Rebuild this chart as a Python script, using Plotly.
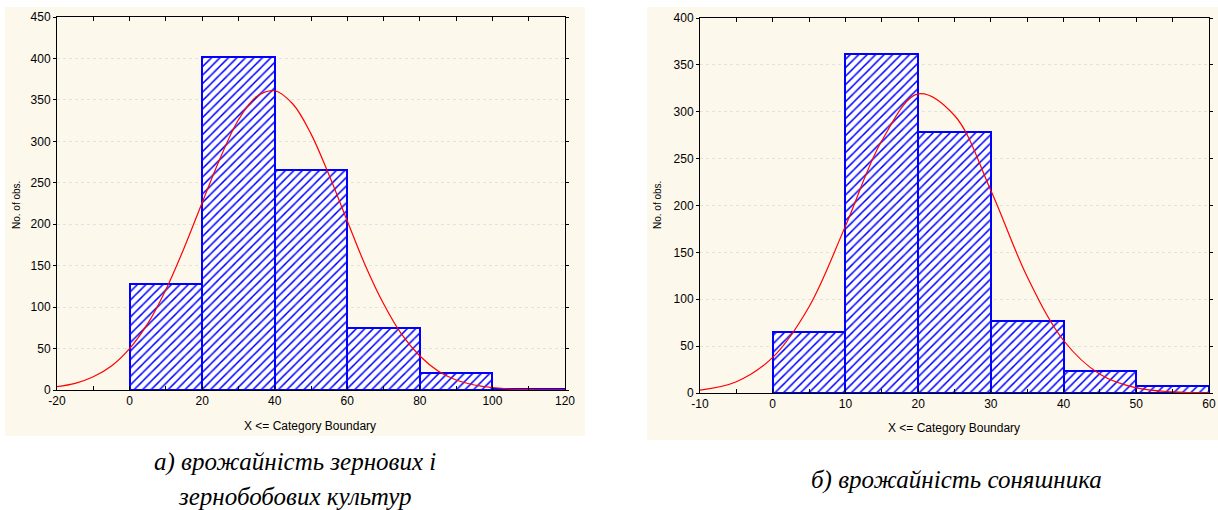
import plotly.graph_objects as go

# ---------------- data ----------------
left_bin_edges = [0, 20, 40, 60, 80, 100, 120]
left_counts = [128, 402, 265, 75, 20, 1]
left_curve_x = [-20, -15, -10, -5, 0, 5, 10, 15, 20, 25, 30, 35, 40, 45, 50, 55, 60,
                65, 70, 75, 80, 85, 90, 95, 100, 105, 110, 115, 120]
left_curve_y = [4, 8, 16, 29, 50, 80, 121, 171, 226, 280, 326, 354, 361, 345, 309, 259, 204,
                150, 104, 67, 41, 23, 12, 6, 3, 1.2, 0.5, 0.2, 0.1]
left_x_ticks = [-20, 0, 20, 40, 60, 80, 100, 120]
left_x_ticklabels = ["-20", "0", "20", "40", "60", "80", "100", "120"]

right_bin_edges = [0, 10, 20, 30, 40, 50, 60]
right_counts = [65, 362, 278, 77, 24, 8]
right_curve_x = [-10, -5, 0, 5, 10, 15, 20, 25, 30, 35, 40, 45, 50, 55, 60]
right_curve_y = [3, 12, 38, 92, 178, 269, 319, 296, 216, 124, 56, 20, 5.4, 1.2, 0.2]
right_x_ticks = [-10, 0, 10, 20, 30, 40, 50, 60]
right_x_ticklabels = ["-10", "0", "10", "20", "30", "40", "50", "60"]

left_caption = ["а) врожайність зернових і", "зернобобових культур"]
right_caption = ["б) врожайність соняшника"]
x_title = "X <= Category Boundary"
y_title = "No. of obs."

W, H = 1218, 510
CREAM = "#fdf8ec"
BLUE = "#0000ff"
RED = "#ff0000"

def px_x(p):
    return p / W

def px_y(p):
    return 1 - p / H

fig = go.Figure()

def add_hist(edges, counts, xa, ya):
    mids = [(edges[i] + edges[i + 1]) / 2 for i in range(len(counts))]
    widths = [edges[i + 1] - edges[i] for i in range(len(counts))]
    fig.add_trace(go.Bar(
        x=mids, y=counts, width=widths, xaxis=xa, yaxis=ya,
        marker=dict(color="white", opacity=1,
                    line=dict(color=BLUE, width=2),
                    pattern=dict(shape="/", fgcolor=BLUE, bgcolor="white", fgopacity=1,
                                 size=6, solidity=0.25)),
        showlegend=False, hoverinfo="skip"))

def add_curve(cx, cy, xa, ya):
    fig.add_trace(go.Scatter(
        x=cx, y=cy, mode="lines", line=dict(color=RED, width=1.2, shape="spline"),
        xaxis=xa, yaxis=ya, showlegend=False, hoverinfo="skip"))

add_hist(left_bin_edges, left_counts, "x", "y")
add_curve(left_curve_x, left_curve_y, "x", "y")
add_hist(right_bin_edges, right_counts, "x2", "y2")
add_curve(right_curve_x, right_curve_y, "x2", "y2")

tickfont = dict(family="Liberation Sans", size=12, color="black")

def xaxis(domain, rng, ticks, labels, anchor):
    step = ticks[1] - ticks[0]
    return dict(domain=domain, range=rng, tickmode="array", tickvals=ticks, ticktext=labels,
                anchor=anchor, automargin=False,
                showline=True, linecolor="black", linewidth=1, mirror="allticks",
                ticks="inside", ticklen=4, tickcolor="black",
                minor=dict(tick0=rng[0], dtick=step / 2, ticks="inside", ticklen=4,
                           tickcolor="black"),
                showgrid=False, zeroline=False, tickfont=tickfont, fixedrange=True)

def yaxis(domain, rng, anchor):
    return dict(domain=domain, range=rng, dtick=50, anchor=anchor,
                automargin=False,
                showline=True, linecolor="black", linewidth=1, mirror="allticks",
                ticks="outside", ticklen=3, tickcolor="black",
                showgrid=True, gridcolor="#e2e2e2", griddash="dot", gridwidth=1,
                zeroline=False, tickfont=tickfont, fixedrange=True)

shapes = [
    dict(type="rect", xref="paper", yref="paper", layer="below",
         x0=px_x(5), x1=px_x(585), y0=px_y(436), y1=px_y(7),
         fillcolor=CREAM, line=dict(width=0)),
    dict(type="rect", xref="paper", yref="paper", layer="below",
         x0=px_x(647), x1=px_x(1218), y0=px_y(440), y1=px_y(7),
         fillcolor=CREAM, line=dict(width=0)),
]

xtitle_font = dict(family="Liberation Sans", size=12, color="black")
ytitle_font = dict(family="Liberation Sans", size=10, color="black")
cap_font = dict(family="Liberation Serif", size=25, color="black", style="italic")

annotations = [
    dict(text=y_title, x=px_x(16), y=px_y(205), xref="paper", yref="paper",
         textangle=-90, showarrow=False, font=ytitle_font, xanchor="center", yanchor="middle"),
    dict(text=y_title, x=px_x(657), y=px_y(205), xref="paper", yref="paper",
         textangle=-90, showarrow=False, font=ytitle_font, xanchor="center", yanchor="middle"),
    dict(text=x_title, x=px_x(310), y=px_y(426), xref="paper", yref="paper",
         showarrow=False, font=xtitle_font, xanchor="center", yanchor="middle"),
    dict(text=x_title, x=px_x(954), y=px_y(428), xref="paper", yref="paper",
         showarrow=False, font=xtitle_font, xanchor="center", yanchor="middle"),
    dict(text=left_caption[0], x=px_x(295), y=px_y(462), xref="paper", yref="paper",
         showarrow=False, font=cap_font, xanchor="center", yanchor="middle"),
    dict(text=left_caption[1], x=px_x(295), y=px_y(496), xref="paper", yref="paper",
         showarrow=False, font=cap_font, xanchor="center", yanchor="middle"),
    dict(text=right_caption[0], x=px_x(956), y=px_y(480), xref="paper", yref="paper",
         showarrow=False, font=cap_font, xanchor="center", yanchor="middle"),
]

fig.update_layout(
    width=W, height=H,
    margin=dict(l=0, r=0, t=0, b=0, autoexpand=False),
    paper_bgcolor="white", plot_bgcolor="white",
    bargap=0,
    xaxis=xaxis([px_x(57), px_x(565)], [-20, 120], left_x_ticks, left_x_ticklabels, "y"),
    yaxis=yaxis([px_y(390), px_y(17)], [0, 450], "x"),
    xaxis2=xaxis([px_x(700), px_x(1209)], [-10, 60], right_x_ticks, right_x_ticklabels, "y2"),
    yaxis2=yaxis([px_y(393), px_y(18)], [0, 400], "x2"),
    shapes=shapes,
    annotations=annotations,
)

fig.write_html("out.html", config={"displayModeBar": False},
               post_script="document.body.style.margin='0';document.body.style.padding='0';")
